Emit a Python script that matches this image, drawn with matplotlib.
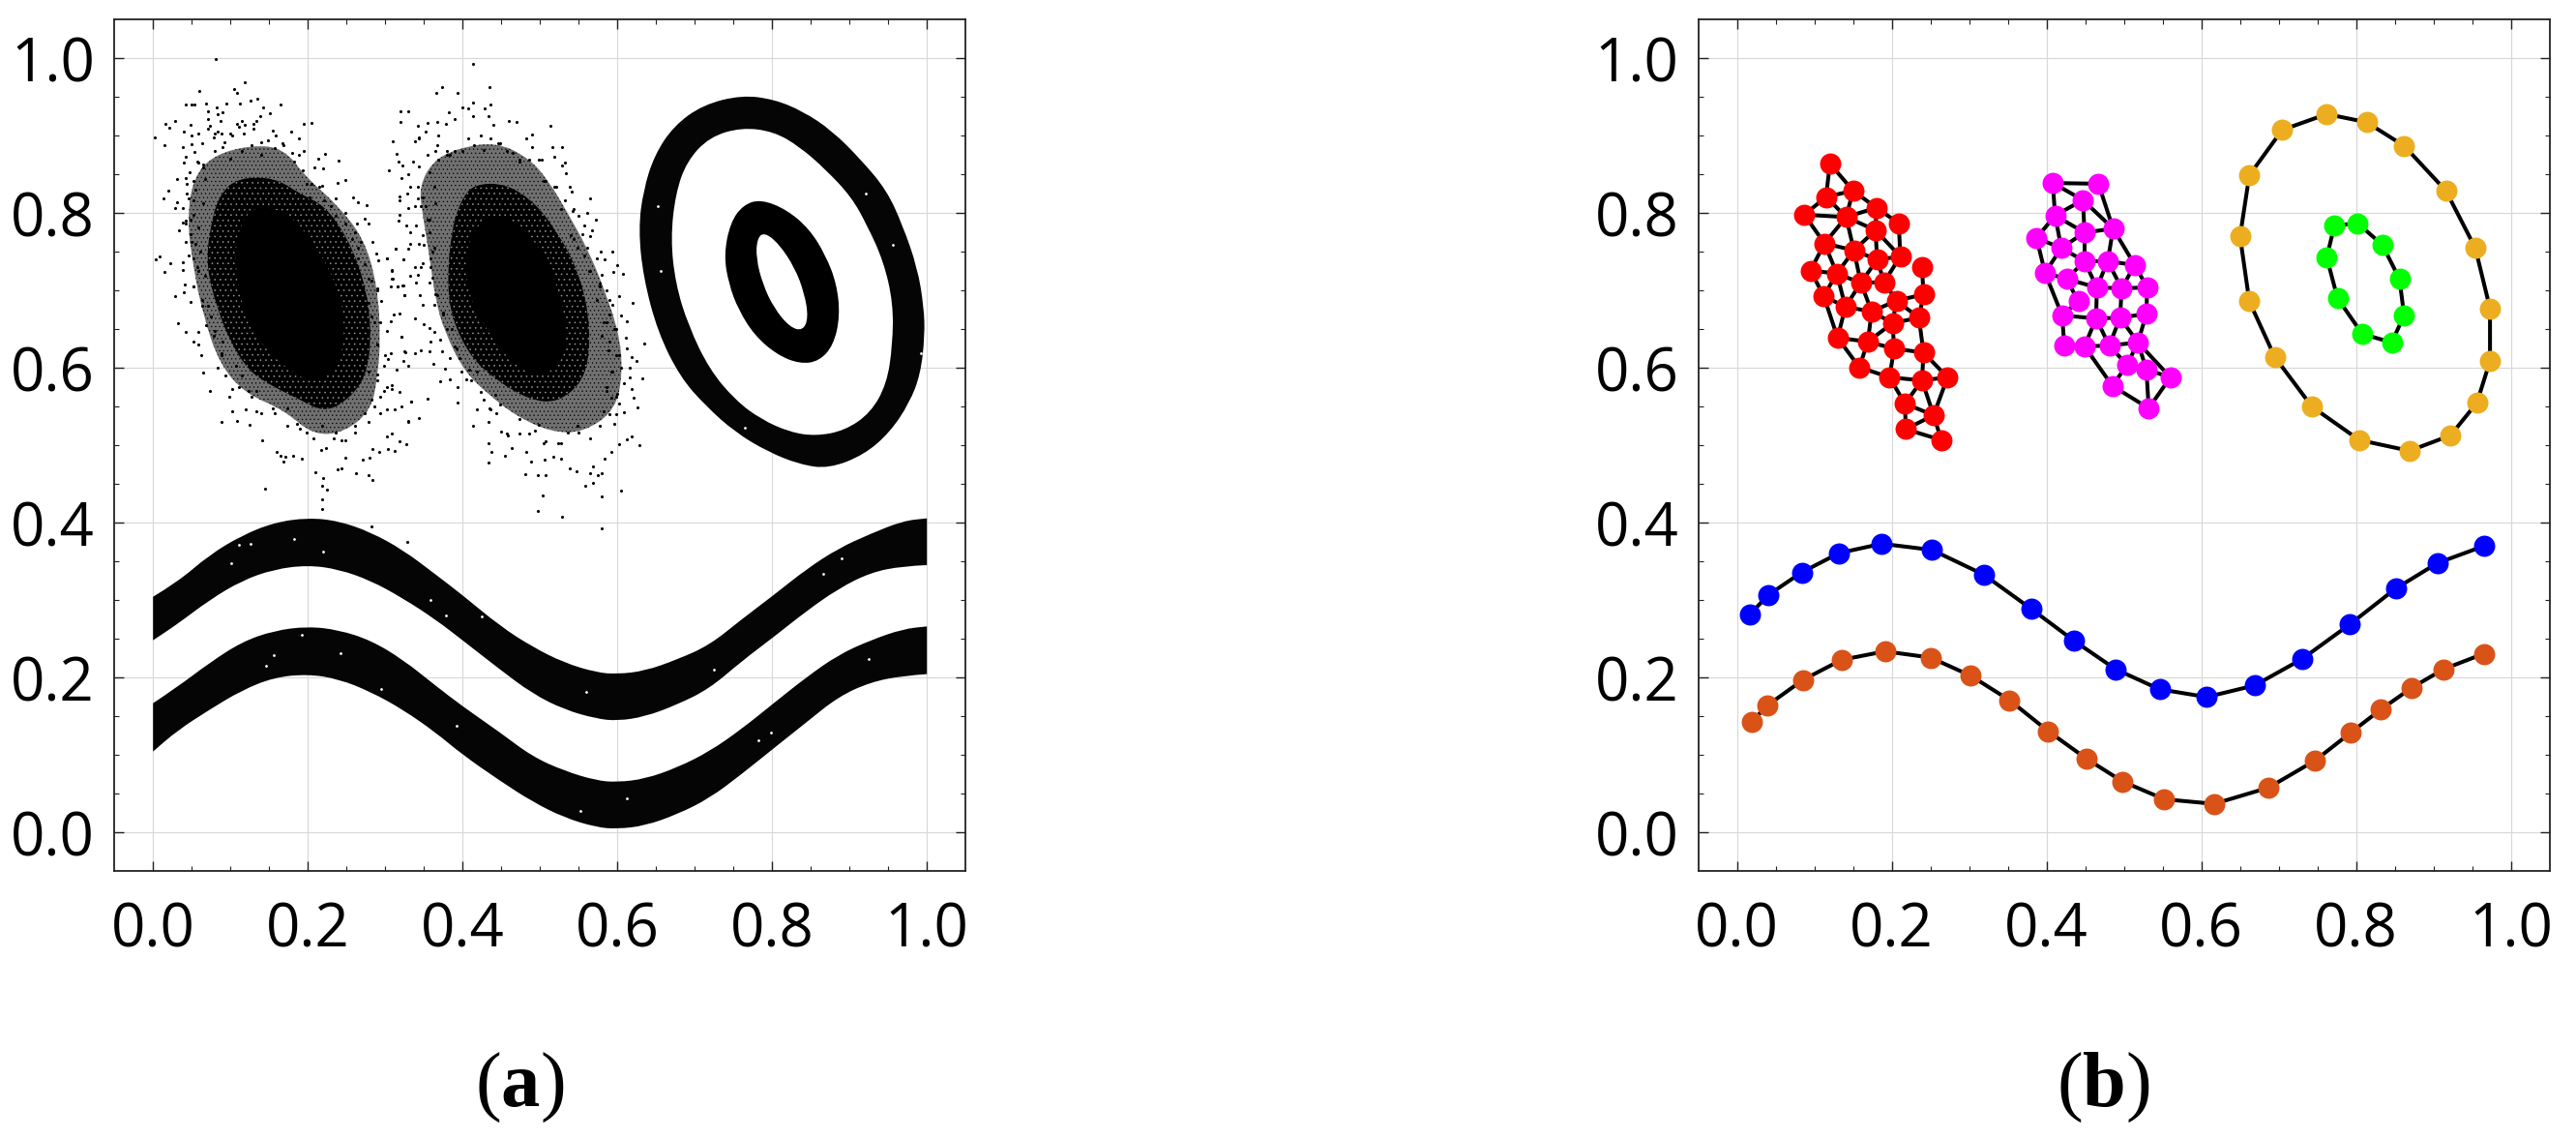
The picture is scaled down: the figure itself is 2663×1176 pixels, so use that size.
import matplotlib
matplotlib.use("Agg")
import matplotlib.pyplot as plt
from matplotlib.collections import LineCollection
from matplotlib.patches import PathPatch
from matplotlib.path import Path

plt.rcParams['mathtext.fontset'] = 'custom'
plt.rcParams['mathtext.rm'] = 'Liberation Serif'
plt.rcParams['mathtext.bf'] = 'Liberation Serif:bold'
plt.rcParams['hatch.linewidth'] = 0.4

TICKS = [0.0, 0.2, 0.4, 0.6, 0.8, 1.0]
TICK_LABELS = ['0.0', '0.2', '0.4', '0.6', '0.8', '1.0']
MINOR = [0.05, 0.1, 0.15, 0.25, 0.3, 0.35, 0.45, 0.5, 0.55, 0.65, 0.7, 0.75, 0.85, 0.9, 0.95]

# ---------- panel (a): outlines of the dense point regions ----------
band_x = [0, .0314, .073, .1147, .1564, .2, .2398, .2814, .323, .3647, .4, .448, .4898, .5314, .573, .6,
          .6356, .677, .719, .7606, .802, .844, .8856, .927, .969, 1.0]
upper_top = [.3045, .3233, .3587, .3837, .4004, .4066, .4025, .3879, .365, .3337, .3066, .267, .24, .2192,
             .2067, .2046, .2087, .2233, .242, .2754, .3066, .34, .367, .3858, .4025, .4058]
upper_bot = [.2483, .2691, .3004, .3254, .34, .3454, .34, .3254, .3025, .2754, .2483, .2108, .1796, .1587,
             .147, .1442, .1496, .165, .1858, .2212, .2525, .2858, .315, .3358, .3442, .3454]
lower_top = [.167, .1879, .2192, .2462, .2608, .2662, .2617, .2483, .2233, .19, .1629, .1296, .0983, .0796,
             .0671, .065, .0692, .0837, .1046, .1337, .167, .2004, .2296, .2483, .2629, .2662]
lower_bot = [.1046, .1317, .1587, .1837, .2004, .2046, .1983, .1817, .1587, .1296, .1004, .067, .04, .0192,
             .0067, .0046, .0087, .0233, .0441, .0754, .1087, .1421, .1754, .1942, .2025, .2046]

ring_outer = [(.7606, .9525), (.8023, .9471), (.8398, .9317), (.8773, .9067), (.9148, .8692), (.9481, .8296),
              (.9689, .7837), (.9877, .7296), (.9960, .6796), (.9973, .6421), (.9918, .5921), (.9773, .5546),
              (.9523, .5171), (.9189, .4879), (.8731, .4700), (.8356, .4754), (.7939, .4921), (.7522, .5171),
              (.7148, .5504), (.6814, .5879), (.6523, .6462), (.6335, .7171), (.6273, .7796), (.6335, .8296),
              (.6481, .8754), (.6731, .9129), (.7106, .9400)]
ring_outer_hole = [(.7606, .9108), (.8023, .9054), (.8356, .8858), (.8689, .8567), (.9023, .8212), (.9231, .7837),
                   (.9439, .7379), (.9564, .6837), (.9556, .6296), (.9481, .5796), (.9273, .5421), (.8939, .5192),
                   (.8564, .5121), (.8231, .5171), (.7856, .5337), (.7522, .5587), (.7189, .5983), (.6918, .6546),
                   (.6752, .7087), (.6689, .7671), (.6752, .8254), (.6898, .8671), (.7189, .8983)]
ring_inner = [(.7856, .8179), (.8189, .8046), (.8481, .7796), (.8689, .7462), (.8835, .7087), (.8877, .6671),
              (.8794, .6296), (.8606, .6087), (.8356, .6054), (.8064, .6171), (.7773, .6421), (.7564, .6754),
              (.7439, .7087), (.7377, .7462), (.7460, .7879), (.7627, .8108)]
ring_inner_hole = [(.7898, .7754), (.8085, .7608), (.8293, .7296), (.8418, .6962), (.8468, .6650), (.8398, .6483),
                   (.8231, .6525), (.8023, .6775), (.7877, .7087), (.7793, .7421), (.7806, .7671)]

cloud1_halo = [(.078, .875), (.127, .888), (.169, .884), (.198, .846), (.236, .813), (.273, .767), (.290, .705),
               (.294, .638), (.290, .588), (.282, .546), (.248, .517), (.207, .513), (.169, .546), (.119, .567),
               (.086, .605), (.065, .667), (.052, .730), (.044, .792), (.052, .846)]
cloud1_dense = [(.111, .846), (.157, .846), (.190, .825), (.223, .809), (.252, .767), (.273, .713), (.282, .655),
                (.278, .596), (.257, .563), (.223, .542), (.190, .559), (.157, .575), (.123, .596), (.098, .638),
                (.082, .680), (.069, .730), (.073, .780), (.086, .825)]
cloud1_core = [(.127, .809), (.165, .805), (.194, .780), (.223, .738), (.244, .688), (.248, .638), (.236, .596),
               (.207, .580), (.178, .596), (.144, .625), (.119, .667), (.107, .721), (.107, .771)]
cloud2_halo = [(.394, .884), (.444, .892), (.486, .871), (.511, .842), (.536, .800), (.561, .755), (.582, .705),
               (.602, .646), (.607, .596), (.598, .546), (.557, .517), (.515, .517), (.469, .538), (.432, .567),
               (.402, .596), (.377, .646), (.365, .688), (.357, .746), (.348, .800), (.344, .834), (.361, .867)]
cloud2_dense = [(.415, .838), (.457, .838), (.494, .813), (.519, .780), (.544, .738), (.561, .684), (.565, .630),
                (.557, .584), (.523, .555), (.486, .559), (.444, .584), (.411, .613), (.386, .663), (.380, .713),
                (.386, .780), (.398, .817)]
cloud2_core = [(.436, .800), (.473, .788), (.503, .750), (.523, .705), (.536, .646), (.528, .605), (.498, .588),
               (.465, .605), (.436, .642), (.411, .684), (.403, .730), (.409, .771)]

# individually read points (thousandths of an axis unit)
cloud1_pts = [(81,999),(118,969),(60,958),(105,960),(109,955),(42,941),(50,940),(54,941),(69,942),(95,942),(112,942),
 (126,946),(135,948),(165,941),(142,936),(151,929),(138,925),(71,932),(82,936),(90,930),(84,928),(71,921),(87,919),
 (28,919),(16,915),(21,910),(49,914),(40,905),(2,898),(15,888),(38,886),(58,903),(50,900),(71,909),(80,903),(88,903),
 (100,903),(111,911),(119,914),(130,909),(134,919),(155,907),(178,905),(195,915),(205,917),(189,896),(50,889),(63,891),
 (53,879),(42,873),(40,865),(195,881),(222,877),(214,870),(240,868),(209,859),(220,858),(31,844),(47,853),(249,843),
 (238,839),(20,829),(13,819),(258,820),(265,814),(276,810),(28,807),(38,807),(31,814),(34,778),(42,790),(274,793),
 (278,787),(263,786),(8,744),(3,740),(22,736),(15,724),(38,737),(39,727),(41,708),(28,693),(40,698),(49,685),(32,658),
 (42,646),(58,647),(52,634),(59,630),(62,617),(65,594),(73,571),(102,544),(88,530),(108,531),(125,527),(120,546),
 (145,444),(141,507),(160,491),(165,486),(171,485),(168,479),(181,487),(192,483),(210,465),(220,458),(219,448),(225,443),
 (219,430),(238,469),(244,471),(262,464),(278,461),(284,455),(280,484),(271,482),(248,484),(303,495),(312,493),(292,491),
 (284,495),(319,505),(327,502),(309,515),(302,511),(330,531),(334,557),(321,550),(312,547),(302,546),(318,569),(309,578),
 (315,598),(325,621),(304,611),(323,609),(321,640),(302,648),(307,660),(311,669),(318,670),(295,686),(325,694),(316,706),
 (322,707),(309,715),(309,727),(291,739),(302,742),(313,754),(323,740),(289,748),(283,763),(219,418),(282,395),(328,375),
 (65,863),(80,880),(90,886),(100,871),(115,880),(127,888),(140,875),(157,884),(169,888),(182,867),(194,855),(205,838),
 (219,836),(236,819),(248,800),(261,775),(269,763),(265,742),(282,713),(290,700),(278,684),(286,659),(290,630),(300,617),
 (290,592),(298,571),(282,559),(294,542),(278,530),(261,517),(244,507),(223,496),(207,509),(190,521),(173,525),(157,542),
 (140,542),(127,563),(111,576),(98,563),(94,590),(84,600),(88,619),(78,642),(69,655),(63,680),(52,705),(59,725),(46,746),
 (50,763),(38,788),(52,798),(46,819),(55,830),(44,838),(67,844),(59,865),
 (73,913),(78,898),(83,905),(92,892),(102,900),(109,915),(115,919),(117,903),(130,915),(140,892),(148,894),(159,900),
 (167,890),(180,878),(188,875),(57,867),(65,859),(42,846),(52,842),(44,825),(52,817),(65,813),(48,792),(42,786),(59,782),
 (48,773),(55,761),(42,763),(61,750),(52,742),(57,730),(67,719),(52,705),(63,688),(71,680),(75,667),(80,648),(90,634),
 (88,617),(107,603),(115,590),(123,571),(134,571),(102,573),(134,544),(155,548),(173,548),(186,528),(198,517),(219,525),
 (236,517),(248,507),(217,494),(234,509),(261,525),(273,542),(286,550),(294,563),(302,576),(309,573),(290,584),(278,596),
 (298,603),(307,619),(290,630),(278,646),(282,667),(294,659),(290,703),(278,715),(273,734),(265,755),(257,767),(248,786),
 (230,809),(221,817),(215,834),(198,838),(202,821),(236,796)]
cloud2_pts = [(414,993),(435,963),(373,963),(366,956),(393,955),(413,943),(436,940),(400,936),(407,935),(428,935),(320,931),
 (330,931),(382,930),(320,918),(414,925),(434,925),(390,921),(367,918),(355,917),(342,913),(379,915),(460,919),(470,918),
 (514,913),(440,914),(352,905),(369,900),(344,898),(339,893),(310,893),(490,901),(482,896),(516,885),(528,885),(490,885),
 (315,877),(518,873),(317,867),(336,867),(532,866),(322,862),(305,855),(528,862),(534,852),(330,850),(321,846),(539,834),
 (541,828),(328,825),(319,822),(565,819),(319,817),(330,807),(319,798),(317,790),(327,784),(561,800),(572,792),(557,784),
 (567,778),(555,773),(565,770),(332,760),(313,754),(330,754),(323,740),(302,742),(309,726),(310,715),(332,719),(316,706),
 (323,707),(307,705),(325,694),(579,750),(593,750),(584,741),(600,733),(607,722),(595,724),(580,720),(586,700),(602,693),
 (620,684),(594,682),(605,668),(612,660),(590,669),(611,639),(635,632),(612,625),(619,614),(625,609),(616,600),(605,601),
 (632,587),(616,588),(609,580),(619,573),(621,561),(626,549),(609,543),(602,554),(619,512),(629,500),(612,508),(602,501),
 (592,492),(584,483),(580,464),(575,462),(565,464),(569,473),(547,466),(538,471),(559,448),(569,451),(580,434),(605,441),
 (580,393),(528,408),(497,416),(503,435),(481,463),(497,462),(507,462),(433,478),(437,491),(433,503),(455,487),(482,492),
 (489,479),(506,482),(517,485),(527,483),(413,525),(393,555),(355,560),(343,535),(330,530),(333,556),(394,575),(371,583),
 (384,585),(377,599),(362,605),(330,603),(326,620),(339,619),(346,623),(357,621),(374,621),(383,613),(321,640),(359,634),
 (371,636),(364,646),(357,652),(350,656),(338,664),(348,681),(364,681),(345,694),(419,546),(435,548),(434,530),(450,518),
 (463,497),
 (384,875),(400,880),(415,888),(427,882),(448,890),(465,878),(473,869),(486,869),(502,869),(507,842),(519,834),(532,817),
 (544,805),(550,796),(540,771),(561,755),(573,742),(565,725),(577,705),(590,688),(582,659),(598,650),(590,634),(602,617),
 (594,596),(586,571),(598,563),(582,544),(596,528),(577,525),(565,509),(548,525),(527,503),(507,505),(494,519),(473,515),
 (459,513),(444,542),(436,546),(427,559),(411,584),(398,596),(392,625),(380,650),(375,671),(365,696),(361,717),(342,721),
 (348,736),(361,750),(344,761),(357,775),(340,784),(357,792),(346,809),(365,813),(348,821),(363,834),(342,834),(357,853),
 (344,861),(369,869),(380,880),(365,880),
 (344,896),(355,875),(367,888),(380,875),(390,880),(407,896),(423,900),(436,896),(446,890),(457,880),(473,867),(498,869),
 (505,842),(521,834),(332,834),(342,819),(338,809),(352,809),(355,792),(332,775),(348,771),(350,759),(363,755),(359,742),
 (338,730),(346,730),(359,730),(340,711),(357,711),(367,694),(375,669),(386,650),(390,628),(396,613),(409,598),(419,596),
 (405,586),(423,569),(442,565),(448,553),(473,534),(457,515),(486,515),(498,526),(505,503),(523,503),(536,517),(550,517),
 (590,540),(598,540),(592,561),(600,567),(586,575),(592,596),(598,617),(588,623),(580,642),(596,650),(586,659),(573,688),
 (563,725),(577,709),(548,755),(557,746),(544,767),(542,803),(527,805)]
white_specks = [(.1106,.372),(.1010,.3475),(.182,.3796),(.220,.3629),(.1264,.3733),(.3585,.3004),(.3785,.2804),(.4252,.2796),
 (.1927,.2558),(.2418,.2317),(.1564,.2296),(.295,.1858),(.146,.215),(.3918,.1379),(.5597,.1817),(.8898,.3546),(.7252,.2108),
 (.6127,.0441),(.5523,.0275),(.9252,.2246),(.8660,.3346),(.798,.1287),(.7822,.1191),(.921,.8254),(.9564,.7587),(.9918,.619),
 (.7648,.5233),(.6564,.7254),(.6523,.8087)]

# ---------- panel (b): graph nodes ----------
red_x = [.120,.150,.115,.180,.087,.141,.209,.179,.113,.151,.211,.181,.239,.095,.129,.190,.160,.241,.112,.206,.140,.174,.235,
         .201,.130,.169,.203,.241,.158,.197,.239,.272,.217,.254,.218,.264]
red_y = [.864,.829,.821,.807,.798,.795,.787,.778,.761,.752,.744,.740,.730,.726,.722,.711,.710,.695,.693,.687,.679,.673,.665,
         .658,.639,.634,.625,.620,.601,.588,.584,.588,.554,.539,.521,.507]
red_edges = [(1,2),(1,3),(2,3),(2,4),(2,6),(3,5),(3,6),(4,6),(4,7),(4,8),(5,6),(5,9),(6,8),(6,9),(6,10),(7,11),(8,10),(8,11),
             (8,12),(9,10),(9,14),(9,15),(10,12),(10,15),(10,17),(11,12),(11,16),(12,16),(12,17),(13,18),(14,15),(14,19),
             (15,17),(15,19),(15,21),(16,17),(16,20),(17,21),(17,22),(18,20),(18,23),(19,21),(19,25),(20,22),(20,23),(20,24),
             (21,22),(21,25),(22,24),(22,26),(23,24),(23,28),(24,26),(24,27),(25,26),(25,29),(26,27),(26,29),(27,28),(27,30),
             (28,31),(28,32),(29,30),(30,31),(30,33),(31,32),(31,33),(31,34),(32,34),(33,34),(33,35),(34,35),(34,36),(35,36)]
mag_x = [.408,.467,.447,.411,.486,.449,.387,.419,.449,.479,.514,.398,.426,.465,.497,.530,.441,.420,.464,.495,.529,.423,.449,
         .481,.518,.504,.529,.560,.485,.532]
mag_y = [.839,.838,.817,.797,.780,.775,.768,.755,.738,.738,.733,.723,.715,.704,.703,.704,.686,.668,.664,.665,.670,.629,.628,
         .629,.633,.604,.598,.588,.577,.548]
mag_edges = [(1,2),(1,3),(1,4),(2,5),(3,4),(3,5),(3,6),(4,6),(4,7),(4,8),(5,6),(5,11),(5,10),(6,8),(6,9),(7,8),(7,12),(8,9),
             (8,12),(9,10),(9,13),(9,14),(10,11),(10,14),(10,15),(11,15),(11,16),(12,13),(12,18),(13,14),(13,17),(14,15),
             (14,19),(15,16),(15,20),(16,21),(17,18),(18,19),(18,22),(19,20),(19,23),(19,24),(20,21),(20,24),(20,25),(21,25),
             (22,23),(23,24),(23,29),(24,25),(24,26),(25,26),(25,27),(25,28),(26,27),(26,29),(27,28),(27,30),(28,30),(29,30)]
gold_x = [.762,.8135,.862,.916,.954,.973,.973,.956,.922,.869,.804,.743,.695,.662,.650,.662,.7045]
gold_y = [.928,.9175,.887,.829,.755,.677,.609,.555,.513,.493,.507,.550,.614,.686,.770,.849,.9075]
green_x = [.772,.802,.834,.856,.862,.846,.808,.776,.762]
green_y = [.784,.787,.759,.715,.668,.633,.644,.690,.743]
blue_x = [.017,.040,.0835,.132,.187,.252,.319,.380,.435,.489,.546,.607,.669,.730,.792,.851,.905,.965]
blue_y = [.282,.3065,.336,.361,.373,.365,.333,.289,.248,.211,.185,.175,.190,.224,.269,.315,.348,.370]
orange_x = [.019,.039,.085,.135,.191,.250,.302,.352,.402,.452,.498,.552,.6165,.687,.747,.793,.832,.872,.913,.965]
orange_y = [.143,.164,.197,.223,.234,.226,.2025,.171,.131,.095,.066,.043,.037,.058,.093,.129,.159,.187,.211,.231]

W, H = 2663, 1176
fig = plt.figure(figsize=(W / 100, H / 100), dpi=100, facecolor='white')
ax_a = fig.add_axes([118.2 / W, (H - 900.3) / H, 880 / W, 880 / H])
ax_b = fig.add_axes([1755.7 / W, (H - 900.3) / H, 880 / W, 880 / H])

for ax in (ax_a, ax_b):
    ax.set_xlim(-0.05, 1.05)
    ax.set_ylim(-0.05, 1.05)
    ax.set_xticks(TICKS, TICK_LABELS)
    ax.set_yticks(TICKS, TICK_LABELS)
    ax.set_xticks(MINOR, minor=True)
    ax.set_yticks(MINOR, minor=True)
    ax.grid(True, which='major', color='#d8d8d8', lw=0.85, zorder=0)
    ax.set_axisbelow(True)
    ax.tick_params(which='major', direction='in', length=7.2, width=1.0, top=True, right=True, color='#222222')
    ax.tick_params(which='minor', direction='in', length=3.6, width=0.8, top=True, right=True, color='#222222')
    ax.tick_params(axis='x', which='major', pad=22, labelsize=44.5)
    ax.tick_params(axis='y', which='major', pad=14.5, labelsize=44.5)
    for lab in ax.get_xticklabels() + ax.get_yticklabels():
        lab.set_fontfamily('Open Sans')
    for s in ax.spines.values():
        s.set_linewidth(1.3)
        s.set_color('#222222')


def closed_curve(pts):
    """Smooth closed outline whose control points are the read vertices."""
    n = len(pts)
    mid = lambda a, b: ((a[0] + b[0]) / 2, (a[1] + b[1]) / 2)
    verts, codes = [mid(pts[-1], pts[0])], [Path.MOVETO]
    for i in range(n):
        verts += [pts[i], mid(pts[i], pts[(i + 1) % n])]
        codes += [Path.CURVE3, Path.CURVE3]
    return Path(verts, codes)


def poly(ax, pts, z, face='black', edge='none', hatch=None):
    ax.add_patch(PathPatch(closed_curve(pts), facecolor=face, edgecolor=edge, hatch=hatch, lw=0, zorder=z))


def band(ax, xs, top, bot, z):
    verts = [(xs[0], top[0])]
    codes = [Path.MOVETO]
    for i in range(1, len(xs) - 1):
        verts += [(xs[i], top[i]), ((xs[i] + xs[i + 1]) / 2, (top[i] + top[i + 1]) / 2)]
        codes += [Path.CURVE3, Path.CURVE3]
    verts.append((xs[-1], top[-1])); codes.append(Path.LINETO)
    verts.append((xs[-1], bot[-1])); codes.append(Path.LINETO)
    for i in range(len(xs) - 2, 0, -1):
        verts += [(xs[i], bot[i]), ((xs[i] + xs[i - 1]) / 2, (bot[i] + bot[i - 1]) / 2)]
        codes += [Path.CURVE3, Path.CURVE3]
    verts.append((xs[0], bot[0])); codes.append(Path.LINETO)
    verts.append((xs[0], top[0])); codes.append(Path.CLOSEPOLY)
    ax.add_patch(PathPatch(Path(verts, codes), facecolor='#050505', edgecolor='none', lw=0, zorder=z))


# panel (a)
band(ax_a, band_x, upper_top, upper_bot, 2)
band(ax_a, band_x, lower_top, lower_bot, 2)
poly(ax_a, ring_outer, 2, face='#050505')
poly(ax_a, ring_outer_hole, 2.1, face='white')
poly(ax_a, ring_inner, 2.2)
poly(ax_a, ring_inner_hole, 2.3, face='white')
for halo, dense, core in ((cloud1_halo, cloud1_dense, cloud1_core), (cloud2_halo, cloud2_dense, cloud2_core)):
    poly(ax_a, halo, 2, face='#707070', edge='black', hatch='....')
    poly(ax_a, dense, 2.1, face='black', edge='#999999', hatch='...')
    poly(ax_a, core, 2.2)
for pts in (cloud1_pts, cloud2_pts):
    ax_a.scatter([p[0] / 1000 for p in pts], [p[1] / 1000 for p in pts], s=5, c='black', lw=0, zorder=3)
ax_a.scatter([p[0] for p in white_specks], [p[1] for p in white_specks], s=4, c='white', lw=0, zorder=3)


# panel (b)
def graph(ax, xs, ys, edges, color):
    segs = [[(xs[i - 1], ys[i - 1]), (xs[j - 1], ys[j - 1])] for i, j in edges]
    ax.add_collection(LineCollection(segs, colors='black', linewidths=2.9, zorder=2))
    ax.plot(xs, ys, ls='none', marker='o', ms=15.8, mfc=color, mec=color, mew=0, zorder=3)


def chain(ax, xs, ys, color, closed=False):
    lx = list(xs) + ([xs[0]] if closed else [])
    ly = list(ys) + ([ys[0]] if closed else [])
    ax.plot(lx, ly, color='black', lw=2.9, zorder=2)
    ax.plot(xs, ys, ls='none', marker='o', ms=15.8, mfc=color, mec=color, mew=0, zorder=3)


graph(ax_b, red_x, red_y, red_edges, '#ff0000')
graph(ax_b, mag_x, mag_y, mag_edges, '#ff00ff')
chain(ax_b, gold_x, gold_y, '#ecae20', closed=True)
chain(ax_b, green_x, green_y, '#00ff00', closed=True)
chain(ax_b, blue_x, blue_y, '#0000ff')
chain(ax_b, orange_x, orange_y, '#d95319')

fig.text(537 / W, (H - 1143) / H, r'$(\mathbf{a})$', fontsize=58, ha='center', va='baseline')
fig.text(2174 / W, (H - 1143) / H, r'$(\mathbf{b})$', fontsize=58, ha='center', va='baseline')

fig.savefig('out.png', dpi=100, facecolor='white')
